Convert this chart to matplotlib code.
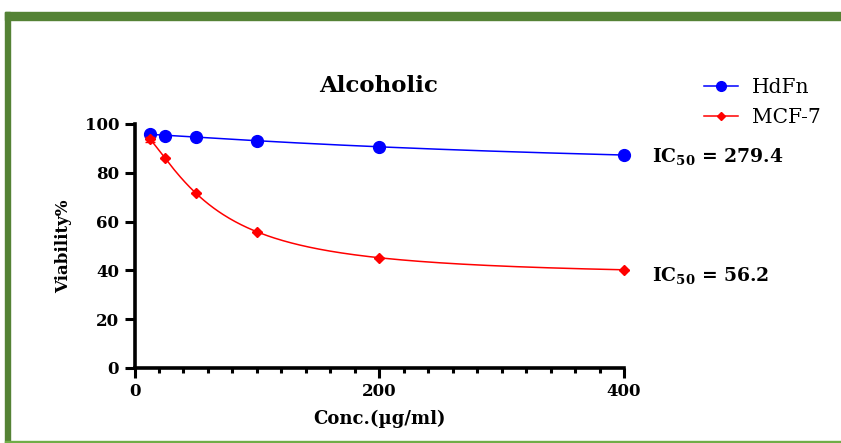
import numpy as np
import matplotlib
matplotlib.use("Agg")
import matplotlib.pyplot as plt
from matplotlib.patches import Rectangle
from matplotlib.lines import Line2D

# ---- data ----
conc = [12.5, 25, 50, 100, 200, 400]
hdfn = [95.9, 95.2, 94.7, 93.2, 90.6, 87.3]
mcf7 = [93.8, 86.2, 71.6, 55.9, 45.2, 40.2]
mcf7_err = [1.0, 0, 0, 0, 0, 0]
series_names = ["HdFn", "MCF-7"]
ic50_labels = ["279.4", "56.2"]
x_ticks = [0, 200, 400]
y_ticks = [0, 20, 40, 60, 80, 100]
title = "Alcoholic"
xlabel = "Conc.(\u00b5g/ml)"
ylabel = "Viability%"

FONT = "DejaVu Serif"
plt.rcParams["font.family"] = [FONT]
plt.rcParams["mathtext.fontset"] = "dejavuserif"


def fit4pl(x, y):
    x = np.asarray(x, float)
    y = np.asarray(y, float)
    best = None
    for c in np.geomspace(3, 3000, 300):
        for h in np.linspace(0.3, 4.0, 75):
            f = 1.0 / (1.0 + (x / c) ** h)
            A = np.column_stack([f, 1 - f])
            coef, *_ = np.linalg.lstsq(A, y, rcond=None)
            sse = np.sum((A @ coef - y) ** 2)
            if best is None or sse < best[0]:
                best = (sse, c, h, coef)
    _, c, h, coef = best
    return lambda xx: coef[0] / (1 + (xx / c) ** h) + coef[1] * (1 - 1 / (1 + (xx / c) ** h))


W, H = 841, 443
fig = plt.figure(figsize=(W / 100, H / 100), dpi=100)

# green frame
green = "#548235"
fig.patches.append(Rectangle((5 / W, 1 - 20 / H), 1, 8 / H, transform=fig.transFigure,
                             color=green, zorder=0))
fig.patches.append(Rectangle((5 / W, 0), 5 / W, 1 - 12 / H, transform=fig.transFigure,
                             color=green, zorder=0))
fig.patches.append(Rectangle((5 / W, 0), 1, 2 / H, transform=fig.transFigure,
                             color="#70AD47", zorder=0))

ax = fig.add_axes([134.5 / W, 1 - 368 / H, (624 - 134.5) / W, (368 - 124) / H])

xs = np.linspace(10, 400, 400)
fb = fit4pl(conc, hdfn)
fr = fit4pl(conc, mcf7)
ax.plot(xs, fb(xs), color="#0000FF", lw=1.1, zorder=3, clip_on=False)
ax.plot(xs, fr(xs), color="#FF0000", lw=1.1, zorder=3, clip_on=False)
ax.plot(conc, hdfn, "o", color="#0000FF", ms=8.5, zorder=4, clip_on=False)
ax.errorbar(conc, mcf7, yerr=mcf7_err, fmt="D", color="#FF0000", ms=5.5,
            capsize=3.5, elinewidth=1, capthick=1, zorder=5, clip_on=False)

ax.set_xlim(0, 400)
ax.set_ylim(0, 100)
for s in ["top", "right"]:
    ax.spines[s].set_visible(False)
for s in ["left", "bottom"]:
    ax.spines[s].set_linewidth(2.6)
ax.set_xticks(x_ticks)
ax.set_xticks(np.arange(0, 401, 20), minor=True)
ax.set_yticks(y_ticks)
ax.tick_params(which="major", length=7, width=2.2, direction="out", pad=4)
ax.tick_params(axis="x", which="minor", length=3.5, width=2.2, direction="out")
for lab in ax.get_xticklabels() + ax.get_yticklabels():
    lab.set_fontweight("bold")
    lab.set_fontsize(12)

ax.set_xlabel(xlabel, fontsize=13, fontweight="bold", labelpad=7)
ax.set_ylabel(ylabel, fontsize=12, fontweight="bold", labelpad=9)

fig.text(379 / W, 1 - 86 / H, title, fontsize=16.5, fontweight="bold",
         ha="center", va="center")

# IC50 annotations
ax.text(423, 86.5, r"$\mathbf{IC_{50}}$" + " = " + ic50_labels[0], fontsize=13.5,
        fontweight="bold", ha="left", va="center", clip_on=False)
ax.text(423, 38.1, r"$\mathbf{IC_{50}}$" + " = " + ic50_labels[1], fontsize=13.5,
        fontweight="bold", ha="left", va="center", clip_on=False)

handles = [Line2D([], [], color="#0000FF", marker="o", ms=7, lw=1.1),
           Line2D([], [], color="#FF0000", marker="D", ms=4.5, lw=1.1)]
fig.legend(handles, series_names, loc="upper left",
           bbox_to_anchor=(704 / W, 1 - 78 / H), frameon=False,
           prop={"family": FONT, "size": 14.5}, handlelength=1.7,
           handletextpad=0.7, labelspacing=0.55, borderpad=0, borderaxespad=0)

fig.savefig("out.png", dpi=100)
